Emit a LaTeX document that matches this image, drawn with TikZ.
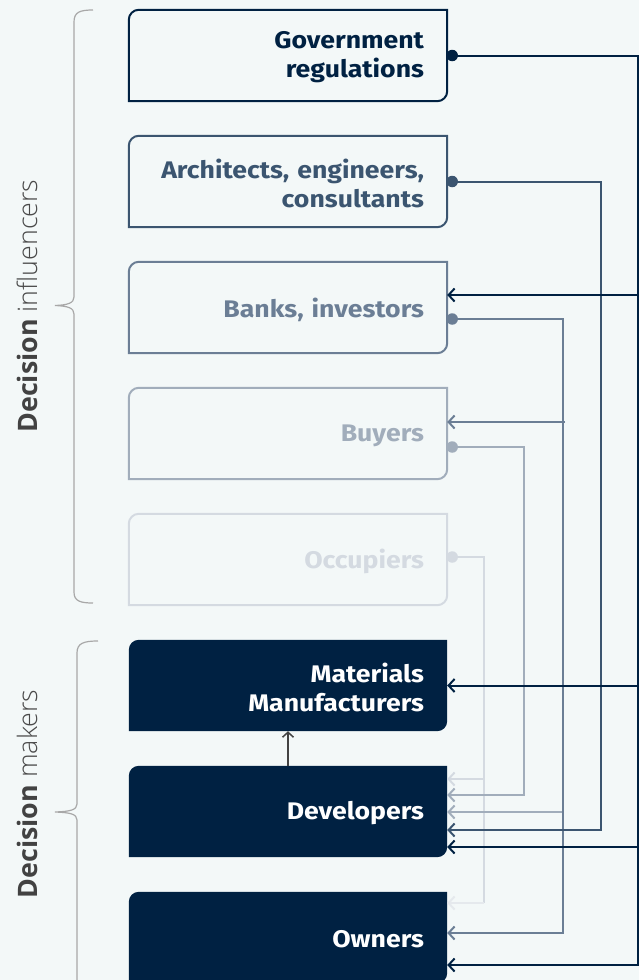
\documentclass[tikz,border=0pt]{standalone}
\usepackage{fontspec}
\setmainfont{Fira Sans}[FakeStretch=1.11]
\newfontfamily\labelfont{Open Sans}
\newfontfamily\lightfont{Open Sans}[UprightFont={* Light}]
\usetikzlibrary{arrows.meta,calc}
\definecolor{navy}{HTML}{002142}
\definecolor{ctwo}{HTML}{3B5570}
\definecolor{cthree}{HTML}{6B7E95}
\definecolor{cfour}{HTML}{A1ADBB}
\definecolor{cfive}{HTML}{D4DAE1}
\definecolor{csix}{HTML}{E5E9ED}
\definecolor{bgc}{HTML}{F3F8F8}
\definecolor{labc}{HTML}{424242}
\definecolor{lightlabc}{HTML}{4A4A4A}
\definecolor{bracec}{HTML}{A8A8A8}
\pgfdeclarelayer{bglayer}
\pgfsetlayers{bglayer,main}
\tikzset{
  box/.style={minimum width=318pt, minimum height=91pt, text width=272pt, align=right,
    inner xsep=23pt, inner ysep=0pt, font=\fontsize{24}{29}\selectfont\bfseries},
  dot/.style={circle, minimum size=11.5pt, inner sep=0pt},
  conn/.style={line width=2pt, -{Straight Barb[length=6pt,width=13pt,line width=2pt]}},
  rail/.style={line width=2pt},
  uparrow/.style={line width=1.5pt, draw=labc, -{Straight Barb[length=5pt,width=11pt,line width=1.5pt]}},
  brace/.style={line width=1.2pt, draw=bracec},
  sidelabel/.style={rotate=90, anchor=base, text=labc, font=\labelfont\fontsize{26.8}{30}\selectfont},
}
% box outline, drawn 2pt above the node so the text sits slightly low
\newcommand\boxshape[2]{%
  \path[#2] ([yshift=2pt]#1.north east) -- ([xshift=10pt,yshift=2pt]#1.north west)
    arc[start angle=90,end angle=180,radius=10pt] -- ([yshift=2pt]#1.south west)
    -- ([xshift=-10pt,yshift=2pt]#1.south east) arc[start angle=270,end angle=360,radius=10pt] -- cycle;}
\begin{document}
\begin{tikzpicture}[x=1pt,y=-1pt]
\useasboundingbox (0,0) rectangle (639,980);
% nodes
\node[box, text=navy] (gov) at (288,57.5) {Government\\regulations};
\node[box, text=ctwo] (arch) at (288,183.5) {Architects, engineers,\\consultants};
\node[box, text=cthree] (banks) at (288,309.5) {Banks, investors};
\node[box, text=cfour] (buyers) at (288,435.5) {Buyers};
\node[box, text=cfive] (occ) at (288,561.5) {Occupiers};
\node[box, text=white] (mat) at (288,687.5) {Materials\\Manufacturers};
\node[box, text=white] (dev) at (288,813.5) {Developers};
\node[box, text=white] (own) at (288,939.5) {Owners};
\begin{pgfonlayer}{bglayer}
  \fill[bgc] (0,0) rectangle (639,980);
  \boxshape{gov}{draw=navy, line width=2pt}
  \boxshape{arch}{draw=ctwo, line width=2pt}
  \boxshape{banks}{draw=cthree, line width=2pt}
  \boxshape{buyers}{draw=cfour, line width=2pt}
  \boxshape{occ}{draw=cfive, line width=2pt}
  \boxshape{mat}{fill=navy}
  \boxshape{dev}{fill=navy}
  \boxshape{own}{fill=navy}
\end{pgfonlayer}
% side labels
\node[sidelabel] (infl) at (37,306) {\textbf{Decision} \textcolor{lightlabc}{\lightfont influencers}};
\node[sidelabel] (makers) at (37,794) {\textbf{Decision} \textcolor{lightlabc}{\lightfont makers}};
% braces
\draw[brace] (93,10) .. controls (80,10) and (74,12) .. (74,22) -- (74,297)
  .. controls (74,303) and (68,305) .. (55,305.5)
  .. controls (68,306) and (74,308) .. (74,314) -- (74,592)
  .. controls (74,601) and (80,603) .. (93,603);
\draw[brace] (98,641) .. controls (84,641) and (77,643) .. (77,653) -- (77,804)
  .. controls (77,810) and (70,811.5) .. (55,812)
  .. controls (70,812.5) and (77,814) .. (77,820) -- (77,990);
% rails
\coordinate (gR) at (637.5,0);
\coordinate (aR) at (601,0);
\coordinate (bR) at (563,0);
\coordinate (yR) at (524,0);
\coordinate (oR) at (484,0);
% arrow targets
\coordinate (banksIn) at ($(banks.east)+(0,-14.5)$);
\coordinate (buyersIn) at ($(buyers.east)+(0,-13.5)$);
\coordinate (matIn) at ($(mat.east)+(0,-2)$);
\coordinate (devInA) at ($(dev.east)+(0,-34.5)$);
\coordinate (devInB) at ($(dev.east)+(0,-18.5)$);
\coordinate (devInC) at ($(dev.east)+(0,-1.5)$);
\coordinate (devInD) at ($(dev.east)+(0,16.5)$);
\coordinate (devInE) at ($(dev.east)+(0,33.5)$);
\coordinate (ownInA) at ($(own.east)+(0,-36.5)$);
\coordinate (ownInB) at ($(own.east)+(0,-6.5)$);
\coordinate (ownInC) at ($(own.east)+(0,25.5)$);
% dots
\coordinate (odp) at ($(occ.east)+(5,-4.5)$);
\coordinate (ydp) at ($(buyers.east)+(5,11.5)$);
\coordinate (bdp) at ($(banks.east)+(5,9.5)$);
\coordinate (adp) at ($(arch.east)+(5,-2)$);
\coordinate (gdp) at ($(gov.east)+(5,-2)$);
% occupiers
\draw[conn, cfive] (odp) -| (oR |- devInA) -- (devInA);
\draw[rail, cfive] (oR |- devInA) -- (oR |- ownInA);
\draw[conn, csix] (oR |- ownInA) -- (ownInA);
\node[dot, fill=cfive] (od) at (odp) {};
% buyers
\draw[conn, cfour] (ydp) -| (yR |- devInB) -- (devInB);
\node[dot, fill=cfour] (yd) at (ydp) {};
% banks
\draw[conn, cfour] (bR |- devInC) -- (devInC);
\draw[conn, cthree] (bdp) -| (bR |- ownInB) -- (ownInB);
\draw[conn, cthree] ([xshift=2pt]bR |- buyersIn) -- (buyersIn);
\node[dot, fill=cthree] (bd) at (bdp) {};
% architects
\draw[conn, ctwo] (adp) -| (aR |- devInD) -- (devInD);
\node[dot, fill=ctwo] (ad) at (adp) {};
% government
\draw[conn, navy] (gdp) -| (gR |- ownInC) -- (ownInC);
\draw[conn, navy] (gR |- banksIn) -- (banksIn);
\draw[conn, navy] (gR |- matIn) -- (matIn);
\draw[conn, navy] (gR |- devInE) -- (devInE);
\node[dot, fill=navy] (gd) at (gdp) {};
% developers to materials
\draw[uparrow] ([yshift=2pt]dev.north) -- ([yshift=2pt]mat.south);
\end{tikzpicture}
\end{document}
